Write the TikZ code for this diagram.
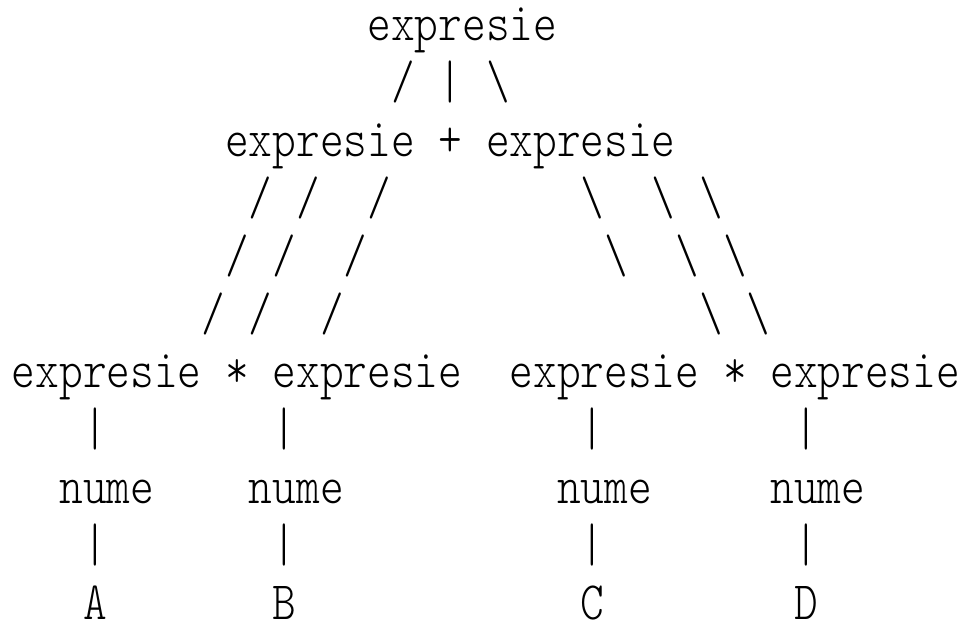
\documentclass[tikz,border=0pt]{standalone}
\usepackage{fontspec}
\newfontfamily\treefont{lmmonolt10-regular.otf}[FakeStretch=0.836]
\newcommand{\bs}{\textbackslash}
\begin{document}
\begin{tikzpicture}[x=11.85pt,y=-28.95pt,
  every node/.style={font=\treefont\fontsize{27pt}{27pt}\selectfont,anchor=base,inner sep=0pt}]
\useasboundingbox (-1.006,-0.700) rectangle (40.175,10.094);
\draw (18.5,0) node (root) {expresie} ;
\draw (16,1) node (r1a) {/} ;
\draw (18,1) node (r1b) {|} ;
\draw (20,1) node (r1c) {\bs} ;
\draw (12.5,2) node (sumL) {expresie} ;
\draw (18,2) node (plus) {+} ;
\draw (23.5,2) node (sumR) {expresie} ;
% left branch
\draw (10,3) node (l3a) {/} ;
\draw (12,3) node (l3b) {/} ;
\draw (15,3) node (l3c) {/} ;
\draw (9,4) node (l4a) {/} ;
\draw (11,4) node (l4b) {/} ;
\draw (14,4) node (l4c) {/} ;
\draw (8,5) node (l5a) {/} ;
\draw (10,5) node (l5b) {/} ;
\draw (13,5) node (l5c) {/} ;
% right branch
\draw (24,3) node (r3a) {\bs} ;
\draw (27,3) node (r3b) {\bs} ;
\draw (29,3) node (r3c) {\bs} ;
\draw (25,4) node (r4a) {\bs} ;
\draw (28,4) node (r4b) {\bs} ;
\draw (30,4) node (r4c) {\bs} ;
\draw (29,5) node (r5a) {\bs} ;
\draw (31,5) node (r5b) {\bs} ;
% products
\draw (3.5,6) node (prodA) {expresie} ;
\draw (9,6) node (timesL) {*} ;
\draw (14.5,6) node (prodB) {expresie} ;
\draw (24.5,6) node (prodC) {expresie} ;
\draw (30,6) node (timesR) {*} ;
\draw (35.5,6) node (prodD) {expresie} ;
% leaves
\foreach \c/\n/\lbl/\l in {3/2/A/a,11/10/B/b,24/23/C/c,33/32/D/d}
{
  \draw (\c,7) node (bar1\l) {|} ;
  \draw (\n+1.5,8) node (nume\l) {nume} ;
  \draw (\c,9) node (bar2\l) {|} ;
  \draw (\c,10) node (leaf\l) {\lbl} ;
}
\end{tikzpicture}
\end{document}
